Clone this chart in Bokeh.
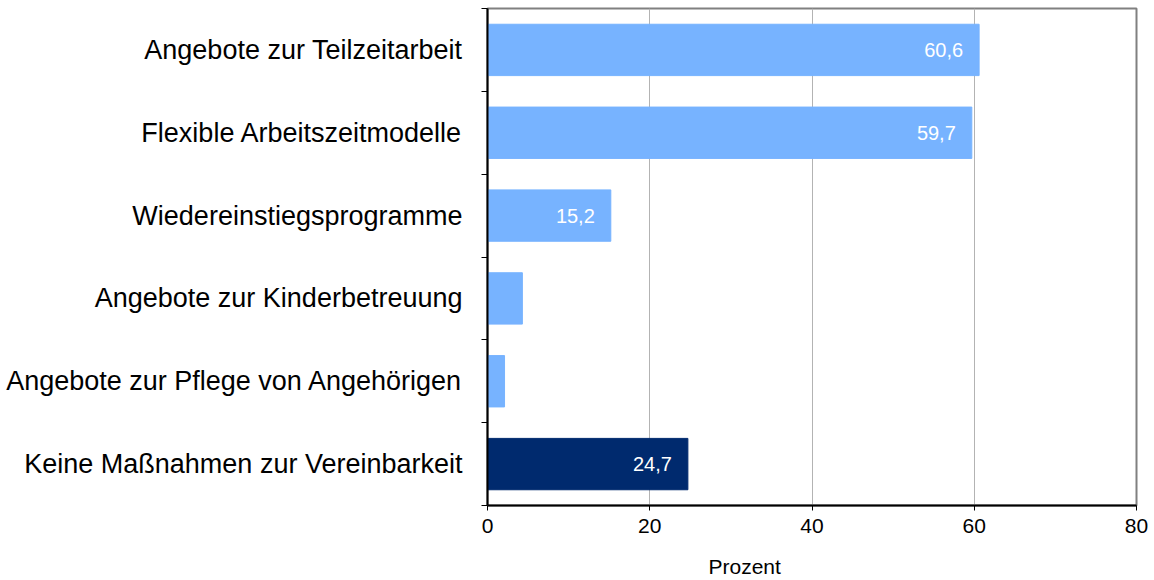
from bokeh.plotting import figure
from bokeh.models import ColumnDataSource, FixedTicker, Range1d, LabelSet, Title
from bokeh.core.properties import value
from bokeh.embed import file_html
from bokeh.resources import INLINE

categories = ["Angebote zur Teilzeitarbeit", "Flexible Arbeitszeitmodelle", "Wiedereinstiegsprogramme",
              "Angebote zur Kinderbetreuung", "Angebote zur Pflege von Angehörigen",
              "Keine Maßnahmen zur Vereinbarkeit"]
values = [60.6, 59.7, 15.2, 4.3, 2.1, 24.7]
labels = ["60,6", "59,7", "15,2", "", "", "24,7"]
colors = ["#77b3ff", "#77b3ff", "#77b3ff", "#77b3ff", "#77b3ff", "#002a6e"]
xticks = [0, 20, 40, 60, 80]

n = len(categories)
ypos = [n - i - 0.5 for i in range(n)]

src = ColumnDataSource(dict(y=ypos, v=values, lab=labels, c=colors))

p = figure(width=1150, height=595, output_backend="svg", toolbar_location=None,
           x_range=Range1d(0, 80), y_range=Range1d(0, n),
           min_border_left=487, min_border_right=14, min_border_top=8, min_border_bottom=0)

p.hbar(y="y", right="v", left=0, height=0.62, color="c", source=src)
p.add_layout(LabelSet(x="v", y="y", text="lab", source=src, x_offset=-16, text_align="right",
                      text_baseline="middle", text_color="white", text_font_size="20px",
                      text_font=value("Liberation Sans")))

p.outline_line_color = "#808080"
p.outline_line_width = 2
p.ygrid.grid_line_color = None
p.xgrid.grid_line_color = "#b3b3b3"
p.xgrid.ticker = FixedTicker(ticks=xticks)

xa = p.xaxis[0]
xa.ticker = FixedTicker(ticks=xticks)
xa.axis_line_color = "black"
xa.axis_line_width = 2
xa.major_tick_in = 0
xa.major_tick_out = 5
xa.minor_tick_line_color = None
xa.major_label_text_font = "Liberation Sans"
xa.major_label_text_font_size = "21px"
xa.major_label_text_color = "black"
xa.major_label_standoff = 8

p.add_layout(Title(text="Prozent", align="left", offset=221, standoff=35,
                   text_font="Liberation Sans", text_font_size="21px",
                   text_font_style="normal", text_color="black"), "below")

ya = p.yaxis[0]
ya.ticker = FixedTicker(ticks=ypos, minor_ticks=list(range(n + 1)))
ya.major_label_overrides = {y: c for y, c in zip(ypos, categories)}
ya.axis_line_color = "black"
ya.axis_line_width = 2
ya.major_tick_line_color = None
ya.major_tick_in = 0
ya.major_tick_out = 0
ya.minor_tick_line_color = "black"
ya.minor_tick_in = 0
ya.minor_tick_out = 6
ya.major_label_standoff = 19
ya.major_label_text_font = "Liberation Sans"
ya.major_label_text_font_size = "27px"
ya.major_label_text_color = "black"

open("out.html", "w").write(file_html(p, INLINE))
